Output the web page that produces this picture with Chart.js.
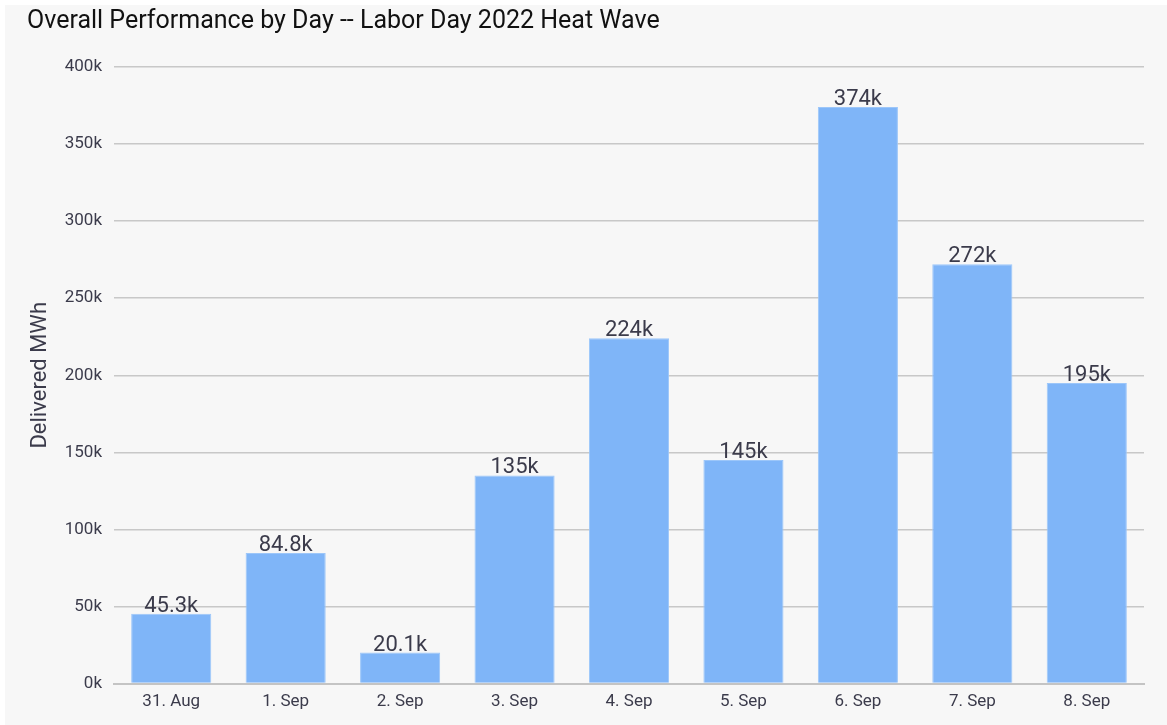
<!DOCTYPE html>
<html>
<head>
<meta charset="utf-8">
<script src="https://cdn.jsdelivr.net/npm/chart.js@4.4.0/dist/chart.umd.min.js"></script>
<style>
  html, body { margin: 0; padding: 0; background: #ffffff; }
  #wrap { position: absolute; left: 5px; top: 5px; width: 1162px; height: 720px; background: #f7f7f7; }
</style>
</head>
<body>
<div id="wrap"><canvas id="chart" width="1162" height="720"></canvas></div>
<script>
// data
var days = ['31. Aug', '1. Sep', '2. Sep', '3. Sep', '4. Sep', '5. Sep', '6. Sep', '7. Sep', '8. Sep'];
var deliveredMWh = [45300, 84800, 20100, 135000, 224000, 145000, 374000, 272000, 195000];
var valueLabels = ['45.3k', '84.8k', '20.1k', '135k', '224k', '145k', '374k', '272k', '195k'];

var fontFamily = 'Roboto, "DejaVu Sans", sans-serif';
var textColor = '#3b3b4b';

// draws value labels on top of each bar
var barLabels = {
    id: 'barLabels',
    afterDatasetsDraw: function (chart) {
        var ctx = chart.ctx;
        var meta = chart.getDatasetMeta(0);
        ctx.save();
        ctx.font = '22px ' + fontFamily;
        ctx.fillStyle = textColor;
        ctx.textAlign = 'center';
        ctx.textBaseline = 'alphabetic';
        meta.data.forEach(function (bar, i) {
            ctx.fillText(valueLabels[i], bar.x, bar.y - 2);
        });
        ctx.restore();
    }
};

// keep the title indented like the original
var titleShift = {
    id: 'titleShift',
    afterLayout: function (chart) {
        var t = chart.titleBlock;
        if (t) { t.left += 12; }
    }
};

Chart.defaults.font.family = fontFamily;
Chart.defaults.color = textColor;

new Chart(document.getElementById('chart'), {
    type: 'bar',
    data: {
        labels: days,
        datasets: [{
            data: deliveredMWh,
            backgroundColor: '#7fb5f8',
            borderColor: '#9cc6f9',
            borderWidth: 1,
            barPercentage: 0.7,
            categoryPercentage: 1.0
        }]
    },
    plugins: [barLabels, titleShift],
    options: {
        responsive: false,
        animation: false,
        layout: { padding: { left: 10, right: 23, bottom: 11 } },
        plugins: {
            legend: { display: false },
            tooltip: { enabled: false },
            title: {
                display: true,
                text: 'Overall Performance by Day -- Labor Day 2022 Heat Wave',
                align: 'start',
                color: '#111111',
                font: { size: 25, weight: 'normal' },
                padding: { top: 2, bottom: 30 }
            }
        },
        scales: {
            x: {
                grid: { display: false, drawOnChartArea: false, drawTicks: true, tickLength: 6, color: '#c4c4c4' },
                border: { display: true, color: '#c4c4c4', width: 2 },
                ticks: { font: { size: 17 }, color: textColor, padding: 2 }
            },
            y: {
                min: 0,
                max: 400000,
                afterFit: function (scale) { scale.width = 99; },
                grid: { color: '#c8c8c8', lineWidth: 1.5, drawTicks: false },
                border: { display: false },
                ticks: {
                    stepSize: 50000,
                    padding: 12,
                    font: { size: 17 },
                    color: textColor,
                    callback: function (v) { return (v / 1000) + 'k'; }
                },
                title: {
                    display: true,
                    text: 'Delivered MWh',
                    font: { size: 22 },
                    color: textColor,
                    padding: { top: 12, bottom: 0 }
                }
            }
        }
    }
});
</script>
</body>
</html>
